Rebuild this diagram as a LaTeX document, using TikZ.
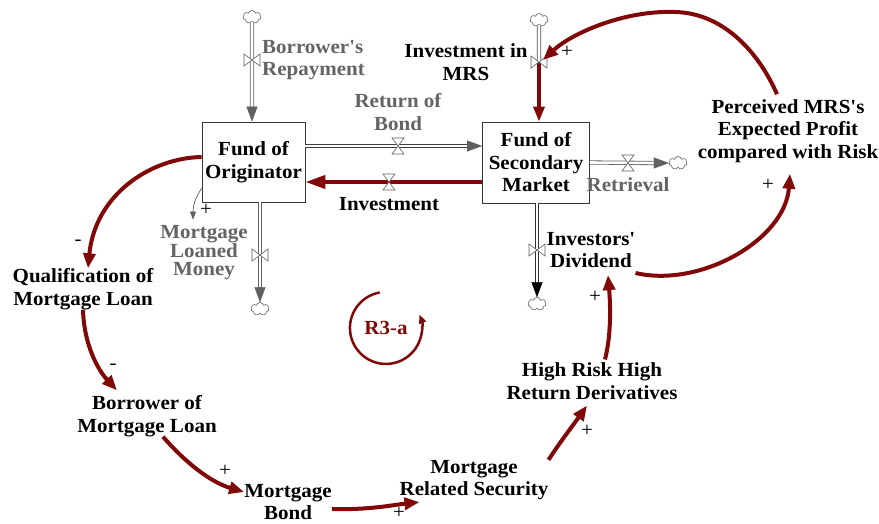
\documentclass[tikz,border=0pt]{standalone}
\usepackage{fontspec}
\setmainfont[FakeStretch=1.05, Ligatures=TeXOff]{Liberation Serif}
\usetikzlibrary{arrows.meta,shapes.symbols}
\definecolor{loopred}{RGB}{128,8,8}
\definecolor{flowgray}{RGB}{96,96,96}
\definecolor{labelgray}{RGB}{100,100,100}
\begin{document}
\begin{tikzpicture}[x=1pt,y=-1pt,
  lbl/.style={font=\fontsize{20}{22.5}\selectfont\bfseries, align=center, inner sep=0pt},
  glbl/.style={lbl, text=labelgray},
  stock/.style={draw=black!80, line width=0.8pt, fill=white, align=center,
    font=\fontsize{20}{22.5}\selectfont\bfseries,
    minimum width=103pt, minimum height=80pt, inner sep=0pt},
  sign/.style={font=\fontsize{20}{20}\selectfont, inner sep=0pt},
  link/.style={draw=loopred, line width=4pt, -{Triangle[length=15pt,width=12pt]}},
  infolink/.style={draw=flowgray, line width=0.7pt, -{Triangle[length=8pt,width=6pt]}},
  pipe/.style={draw=flowgray, line width=0.8pt, double=white, double distance=2.6pt},
  flowtip/.style={draw=#1, line width=0.1pt, -{Triangle[length=15pt,width=11pt]}},
  sink/.style={cloud, cloud puffs=7, draw=flowgray, fill=white, line width=0.6pt,
    minimum width=18pt, minimum height=13pt, inner sep=0pt},
  valvev/.pic={\draw[flowgray, line width=0.6pt, fill=white]
    (-8,-6) -- (-8,6) -- (8,-6) -- (8,6) -- cycle;},
  valveh/.pic={\draw[flowgray, line width=0.6pt, fill=white]
    (-6,-8) -- (6,-8) -- (-6,8) -- (6,8) -- cycle;}
]
\useasboundingbox[fill=white] (0,0) rectangle (879,523);

% ---------- stocks ----------
\node[stock] (orig) at (253.5,162) {Fund of\\Originator};
\node[stock, minimum width=107pt, minimum height=81pt] (sec) at (536,162.5) {Fund of\\Secondary\\Market};

% ---------- sources and sinks ----------
\node[sink] (cRep)  at (252,17)  {};
\node[sink] (cInv)  at (539,20)  {};
\node[sink] (cRet)  at (678,163) {};
\node[sink] (cLoan) at (260,309) {};
\node[sink] (cDiv)  at (537,304) {};

% ---------- flows ----------
% Borrower's Repayment
\draw[pipe] (cRep.south) -- ([xshift=-1.5pt,yshift=14pt]orig.north);
\draw[flowtip=flowgray] ([xshift=-1.5pt,yshift=15pt]orig.north) -- ([xshift=-1.5pt]orig.north);
\pic at (252,60) {valvev};
% Investment in MRS
\draw[draw=black!70, line width=0.8pt, double=white, double distance=2.6pt] (cInv.south) -- (539,62);
\draw[draw=loopred, line width=3.5pt, -{Triangle[length=15pt,width=11pt]}] (539,62) -- ([xshift=3pt]sec.north);
\pic at (539,62) {valvev};
% Return of Bond
\draw[pipe, draw=black!75] ([yshift=16pt]orig.east) -- ([yshift=16.5pt,xshift=-14pt]sec.west);
\draw[flowtip=flowgray] ([yshift=16.5pt,xshift=-15pt]sec.west) -- ([yshift=16.5pt]sec.west);
\pic at (398,146) {valveh};
% Investment
\draw[draw=loopred, line width=4pt, -{Triangle[length=20pt,width=13pt]}]
  ([yshift=-19.5pt]sec.west) -- ([yshift=-20pt]orig.east);
\pic at (389,182) {valveh};
% Retrieval
\draw[pipe] (sec.east) -- ([xshift=-14pt]cRet.west);
\draw[flowtip=flowgray] ([xshift=-15pt]cRet.west) -- (cRet.west);
\pic at (628,163) {valveh};
% Mortgage Loaned Money
\draw[pipe] ([xshift=6.5pt]orig.south) -- ([yshift=14pt]cLoan.north);
\draw[flowtip=flowgray] ([yshift=15pt]cLoan.north) -- (cLoan.north);
\pic at (260,255) {valvev};
% Investors' Dividend
\draw[pipe, draw=black!80] ([xshift=1pt]sec.south) -- ([yshift=14pt]cDiv.north);
\draw[flowtip=black] ([yshift=15pt]cDiv.north) -- (cDiv.north);
\pic at (537,250) {valvev};

% ---------- labels ----------
\node[glbl, anchor=west, align=left] (repl) at (262,60) {Borrower's\\Repayment};
\node[lbl]  (invml) at (466,62)  {Investment in\\MRS};
\node[glbl] (bondl) at (398,112) {Return of\\Bond};
\node[lbl]  (invl)  at (389,204) {Investment};
\node[glbl] (retl)  at (628,185) {Retrieval};
\node[lbl]  (divl)  at (591,250) {Investors'\\Dividend};
\node[glbl, font=\fontsize{20}{18.5}\selectfont\bfseries] (loanl) at (204,253) {Mortgage\\Loaned\\Money};
\node[lbl]  (qual)  at (83,289)  {Qualification of\\Mortgage Loan};
\node[lbl]  (borr)  at (147,416) {Borrower of\\Mortgage Loan};
\node[lbl]  (bond)  at (288,502) {Mortgage\\Bond};
\node[lbl]  (msec)  at (474,480) {Mortgage\\Related Security};
\node[lbl]  (hr)    at (592,381) {High Risk High\\Return Derivatives};
\node[lbl]  (perc)  at (788,131) {Perceived MRS's\\Expected Profit\\compared with Risk};

% ---------- causal links ----------
\draw[infolink] ([yshift=14pt]orig.south west) .. controls (195,198) and (193,206) .. ([xshift=-11pt,yshift=6pt]loanl.north);
\draw[link] ([yshift=5pt]orig.west) .. controls (150,158) and (95,195) .. ([xshift=5pt]qual.north);
\draw[link] (qual.south) .. controls (84,345) and (98,370) .. ([xshift=-30pt,yshift=5pt]borr.north);
\draw[link] ([xshift=16pt]borr.south) .. controls (185,462) and (210,482) .. ([yshift=10pt]bond.west);
\draw[link] ([yshift=-7pt]bond.east) .. controls (370,510) and (392,505) .. ([xshift=20pt,yshift=-2pt]msec.south west);
\draw[link] (msec.north east) .. controls (560,442) and (574,424) .. ([xshift=-5pt,yshift=-6pt]hr.south);
\draw[link] ([xshift=13pt,yshift=3pt]hr.north) .. controls (612,332) and (610,300) .. ([xshift=17pt,yshift=-7pt]divl.south);
\draw[link] ([yshift=-23pt]divl.east) .. controls (700,288) and (785,240) .. ([xshift=2pt,yshift=-11pt]perc.south);
\draw[link] ([xshift=-11pt,yshift=5pt]perc.north) .. controls (760,55) and (725,13) .. (675,12)
  .. controls (625,10) and (572,33) .. (543,60);

% ---------- polarities ----------
\node[sign] (s1) at (567,52)  {+};
\node[sign] (s2) at (206,210) {+};
\node[sign] (s3) at (78,243)  {-};
\node[sign] (s4) at (113,367) {-};
\node[sign] (s5) at (225,471) {+};
\node[sign] (s6) at (399,513) {+};
\node[sign] (s7) at (587,431) {+};
\node[sign] (s8) at (595,297) {+};
\node[sign] (s9) at (768,185) {+};

% ---------- loop marker ----------
\node[font=\fontsize{20}{22}\selectfont\bfseries, text=loopred, inner sep=0pt] (r3) at (386,328) {R3-a};
\draw[loopred, line width=2.5pt, -{Triangle[length=9pt,width=7pt]}]
  (r3.center) ++(-6.3,-35.5) arc[start angle=100, end angle=382, radius=36pt];
\end{tikzpicture}
\end{document}
